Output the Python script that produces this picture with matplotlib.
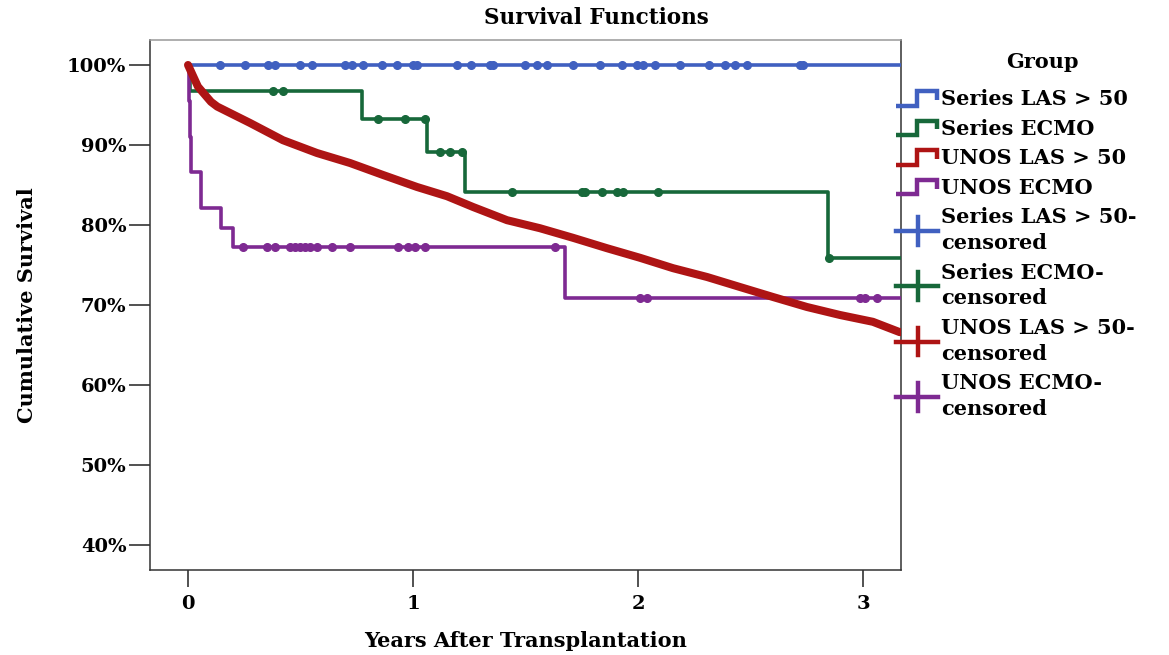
import numpy as np
import matplotlib
matplotlib.use('Agg')
import matplotlib.pyplot as plt
from matplotlib.legend_handler import HandlerBase
from matplotlib.lines import Line2D

plt.rcParams['font.family'] = ['DejaVu Serif']
plt.rcParams['font.weight'] = 'bold'
plt.rcParams['axes.labelweight'] = 'bold'

# values (years, survival %)
follow_up_end = 3.17

blue_t = [0.0]
blue_s = [100.0]
blue_cens = [0.142, 0.253, 0.356, 0.387, 0.498, 0.551, 0.698, 0.729, 0.778, 0.862,
             0.929, 1.000, 1.018, 1.196, 1.258, 1.342, 1.356, 1.498, 1.551, 1.596,
             1.711, 1.831, 1.929, 1.996, 2.022, 2.076, 2.187, 2.316, 2.387, 2.431,
             2.484, 2.720, 2.733]

green_t = [0.0, 0.008, 0.773, 1.062, 1.231, 2.844]
green_s = [100.0, 96.8, 93.25, 89.1, 84.1, 75.9]
green_cens = [0.378, 0.422, 0.844, 0.964, 1.053, 1.12, 1.164, 1.218, 1.44, 1.751,
              1.764, 1.84, 1.907, 1.933, 2.089, 2.849]

purple_t = [0.0, 0.004, 0.008, 0.015, 0.058, 0.148, 0.2, 1.676]
purple_s = [100.0, 95.5, 91.0, 86.6, 82.1, 79.6, 77.2, 70.9]
purple_cens = [0.244, 0.351, 0.387, 0.453, 0.476, 0.498, 0.52, 0.542, 0.573, 0.64,
               0.72, 0.933, 0.978, 1.009, 1.053, 1.631, 2.009, 2.04, 2.987, 3.009,
               3.062]

red_t = [0.0, 0.044, 0.102, 0.13, 0.276, 0.422, 0.573, 0.72, 0.867, 1.018, 1.151,
         1.267, 1.418, 1.564, 1.711, 1.862, 2.009, 2.156, 2.307, 2.453, 2.6, 2.751,
         2.898, 3.044, 3.164]
red_s = [100.0, 97.3, 95.4, 94.8, 92.75, 90.6, 89.0, 87.75, 86.25, 84.75, 83.6,
         82.25, 80.6, 79.6, 78.4, 77.1, 75.9, 74.6, 73.5, 72.25, 71.0, 69.75,
         68.75, 67.9, 66.6]

groups = ['Series LAS > 50', 'Series ECMO', 'UNOS LAS > 50', 'UNOS ECMO']
c_blue = '#4060c0'
c_green = '#17683a'
c_red = '#ae1414'
c_purple = '#7e2a92'

yticks = [40, 50, 60, 70, 80, 90, 100]
xticks = [0, 1, 2, 3]


class StepHandler(HandlerBase):
    def create_artists(self, legend, orig_handle, xdescent, ydescent,
                       width, height, fontsize, trans):
        xs = np.array([0.0, 0.5, 0.5, 0.98, 0.98]) * width - xdescent
        ys = np.array([-0.05, -0.05, 0.95, 0.95, 0.35]) * height - ydescent
        ln = Line2D(xs, ys, color=orig_handle.get_color(), lw=3.2,
                    solid_joinstyle='miter', solid_capstyle='butt', transform=trans)
        return [ln]


class PlusHandler(HandlerBase):
    def create_artists(self, legend, orig_handle, xdescent, ydescent,
                       width, height, fontsize, trans):
        col = orig_handle.get_color()
        h = Line2D([-xdescent, width - xdescent], [height / 2 - ydescent] * 2,
                   color=col, lw=3.2, transform=trans)
        v = Line2D([width * 0.52 - xdescent] * 2,
                   [-0.45 * height - ydescent, 1.45 * height - ydescent],
                   color=col, lw=3.2, transform=trans)
        return [h, v]


def step_at(t, s, x):
    idx = np.searchsorted(t, x, side='right') - 1
    return np.asarray(s)[idx]


fig = plt.figure(figsize=(11.69, 6.55), dpi=100)
ax = fig.add_axes([150 / 1169, 1 - 570 / 655, 751 / 1169, 530 / 655])

lines = []
for t, s, cens, col in [(blue_t, blue_s, blue_cens, c_blue),
                        (green_t, green_s, green_cens, c_green),
                        (purple_t, purple_s, purple_cens, c_purple)]:
    tt = np.r_[t, follow_up_end]
    ss = np.r_[s, s[-1]]
    ln, = ax.step(tt, ss, where='post', color=col, lw=2.6, zorder=3)
    ax.plot(cens, step_at(t, s, cens), 'o', color=col, ms=5.5, zorder=3)
    lines.append(ln)

red_ln, = ax.plot(red_t, red_s, color=c_red, lw=5.8, solid_capstyle='round', zorder=4)
lines.insert(2, red_ln)

ax.set_xlim(-0.169, 3.169)
ax.set_ylim(36.875, 103.125)
ax.set_xticks(xticks)
ax.set_xticklabels([str(x) for x in xticks], fontsize=14)
ax.set_yticks(yticks)
ax.set_yticklabels(['%d%%' % y for y in yticks], fontsize=14)
ax.tick_params(axis='y', length=15, width=1.2, color='#333333', pad=2)
ax.tick_params(axis='x', length=12, width=1.2, color='#333333', pad=6)
for sp in ax.spines.values():
    sp.set_linewidth(1.1)
    sp.set_color('#333333')
ax.spines['top'].set_color('#999999')

ax.set_xlabel('Years After Transplantation', fontsize=15)
ax.xaxis.set_label_coords(0.5, -0.115)
ax.set_ylabel('Cumulative Survival', fontsize=15)
ax.yaxis.set_label_coords(-0.15, 0.5)
fig.text(596 / 1169, 1 - 18 / 655, 'Survival Functions', fontsize=15.5,
         ha='center', va='center')

# legend title placed by hand (SPSS puts a wide gap under it)
fig.text(1042 / 1169, 1 - 62 / 655, 'Group', fontsize=15, ha='center', va='center')

labels = groups + [g + '-\ncensored' for g in groups]
hmap = {}
proxies = []
for ln in lines:
    p = Line2D([], [], color=ln.get_color())
    proxies.append(p)
    hmap[ln] = StepHandler()
for p in proxies:
    hmap[p] = PlusHandler()
leg = fig.legend(lines + proxies, labels, handler_map=hmap,
                 loc='upper left', bbox_to_anchor=(896 / 1169, 1 - 89 / 655),
                 frameon=False, fontsize=15,
                 handlelength=2.0, handletextpad=0.15, labelspacing=0.46,
                 borderpad=0, borderaxespad=0)
for txt in leg.get_texts():
    txt.set_linespacing(1.36)

fig.savefig('out.png', dpi=100)
